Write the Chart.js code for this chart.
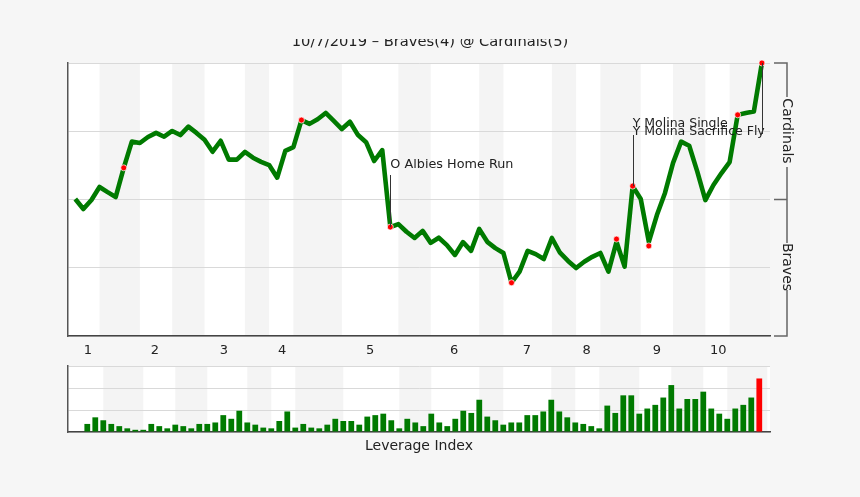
<!DOCTYPE html>
<html>
<head>
<meta charset="utf-8">
<title>Braves @ Cardinals</title>
<script src="https://cdn.jsdelivr.net/npm/chart.js@4"></script>
<style>
  html, body { margin: 0; padding: 0; background: #f6f6f6; overflow: hidden; }
  canvas { position: absolute; left: 0; }
  #wpChart { top: 0; }
  #liChart { top: 360px; }
</style>
</head>
<body>
<canvas id="wpChart" width="860" height="360"></canvas>
<canvas id="liChart" width="860" height="137"></canvas>
<script>
// win probability for the home side, one value per plate appearance
const winProb = [
  50.2, 46.5, 49.8, 54.6, 52.7, 50.9, 61.6, 71.2, 70.7, 72.9, 74.4, 73, 75.1, 73.6, 76.7, 74.4, 71.9,
  67.5, 71.5, 64.6, 64.6, 67.4, 65.3, 63.8, 62.6, 58, 67.8, 69.2, 79.1, 77.7, 79.4, 81.7, 78.8, 75.8,
  78.5, 73.6, 71, 64.1, 68.1, 39.9, 41, 38.2, 35.9, 38.5, 34.1, 36, 33.3, 29.7, 34.4, 31.2, 39.2, 34.5,
  32.2, 30.4, 19.5, 23.6, 31.2, 30, 28.2, 35.9, 30.5, 27.5, 24.9, 27.2, 29, 30.4, 23.6, 34.5, 25.4,
  54.9, 50.2, 34.5, 44.3, 52.4, 63.4, 71.2, 69.7, 60.2, 49.8, 55.3, 59.7, 63.7, 81, 81.7, 82.2, 100
];
// leverage index, one bar per plate appearance
const leverage = [
  1.1, 2, 1.6, 1.1, 0.8, 0.5, 0.3, 0.3, 1.1, 0.8, 0.5, 1, 0.8, 0.5, 1.1, 1.1, 1.3, 2.3, 1.8, 2.9, 1.3,
  1, 0.6, 0.5, 1.5, 2.8, 0.6, 1.1, 0.6, 0.5, 1, 1.8, 1.5, 1.5, 1, 2.1, 2.3, 2.5, 1.6, 0.5, 1.8, 1.3, 0.8,
  2.5, 1.3, 0.8, 1.8, 2.9, 2.6, 4.4, 2.1, 1.6, 1, 1.3, 1.3, 2.3, 2.3, 2.8, 4.4, 2.8, 2, 1.3, 1.1, 0.8,
  0.5, 3.6, 2.6, 5, 5, 2.5, 3.2, 3.7, 4.7, 6.4, 3.2, 4.5, 4.5, 5.5, 3.2, 2.5, 1.8, 3.2, 3.7, 4.7, 7.3
];
// big plays marked in red
const eventIndex = [6, 28, 39, 54, 67, 69, 71, 82, 85];
const eventValues = [61.6, 79.1, 39.9, 19.5, 35.5, 54.9, 33, 81, 100];
// shaded half innings, start and end plate appearance
const bandStarts = [3, 12, 21, 27, 40, 50, 59, 65, 74, 81];
const bandEnds = [8, 16, 24, 33, 44, 53, 62, 70, 78, 86];
const inningTicks = [1.57, 9.87, 18.4, 25.6, 36.5, 46.9, 55.9, 63.3, 72, 79.6];
const inningLabels = ['1', '2', '3', '4', '5', '6', '7', '8', '9', '10'];
const yTicksMain = [0, 25, 50, 75, 100];
const titleText = '10/7/2019 \u2013 Braves(4) @ Cardinals(5)';

const FONT = '"DejaVu Sans", sans-serif';
const GREEN = '#007a00';
const RED = '#ff0000';
const AXIS_DARK = '#555555';
const GRID = '#d9d9d9';

// white plot area with the grey innings behind the grid
function bandsPlugin(shift) {
  return {
    id: 'bands',
    beforeDraw(chart) {
      const { ctx, chartArea: a, scales: { x } } = chart;
      ctx.save();
      ctx.fillStyle = '#ffffff';
      ctx.fillRect(a.left, a.top, a.width, a.height);
      ctx.fillStyle = '#f4f4f4';
      bandStarts.forEach((s, i) => {
        const x0 = x.getPixelForValue(s - shift);
        const x1 = x.getPixelForValue(bandEnds[i] - shift);
        ctx.fillRect(x0, a.top, x1 - x0, a.height);
      });
      ctx.restore();
    }
  };
}

// title (cut off at the top in the original), play labels, team bracket
const decorPlugin = {
  id: 'decor',
  afterDraw(chart) {
    const { ctx, chartArea: a, scales: { x, y } } = chart;
    ctx.save();

    ctx.save();
    ctx.beginPath();
    ctx.rect(0, 39, 860, 20);
    ctx.clip();
    ctx.fillStyle = '#222222';
    ctx.font = '14.7px ' + FONT;
    ctx.textAlign = 'center';
    ctx.fillText(titleText, 430, 46);
    ctx.restore();

    ctx.fillStyle = '#222222';
    ctx.font = '12.8px ' + FONT;
    ctx.textAlign = 'left';
    ctx.fillText('O Albies Home Run', x.getPixelForValue(39), 168);
    ctx.font = '12.5px ' + FONT;
    ctx.fillText('Y Molina Single', x.getPixelForValue(69), 127);
    ctx.fillText('Y Molina Sacrifice Fly', x.getPixelForValue(69), 135);

    // leader lines
    ctx.strokeStyle = '#333333';
    ctx.lineWidth = 1;
    [[39, 175, 39.9], [69, 135, 54.9], [85, 134, 100]].forEach(([idx, topPx, val]) => {
      const px = Math.round(x.getPixelForValue(idx)) + 0.5;
      ctx.beginPath();
      ctx.moveTo(px, topPx);
      ctx.lineTo(px, y.getPixelForValue(val));
      ctx.stroke();
    });

    // bracket on the right
    const bx = a.right + 17;
    const yTop = y.getPixelForValue(100);
    const yMid = y.getPixelForValue(50);
    const yBot = y.getPixelForValue(0);
    ctx.strokeStyle = '#666666';
    ctx.lineWidth = 1.5;
    ctx.beginPath();
    ctx.moveTo(a.right + 4, yTop);
    ctx.lineTo(bx, yTop);
    ctx.lineTo(bx, 97);
    ctx.moveTo(bx, 167);
    ctx.lineTo(bx, 243);
    ctx.moveTo(bx, 290);
    ctx.lineTo(bx, yBot);
    ctx.lineTo(a.right + 4, yBot);
    ctx.moveTo(a.right + 4, yMid);
    ctx.lineTo(bx, yMid);
    ctx.stroke();

    ctx.fillStyle = '#222222';
    ctx.font = '14px ' + FONT;
    ctx.textAlign = 'center';
    ctx.textBaseline = 'middle';
    [['Cardinals', 131], ['Braves', 267]].forEach(([label, cy]) => {
      ctx.save();
      ctx.translate(bx, cy);
      ctx.rotate(Math.PI / 2);
      ctx.fillText(label, 0, 0);
      ctx.restore();
    });
    ctx.restore();
  }
};

// win probability chart
new Chart(document.getElementById('wpChart').getContext('2d'), {
  type: 'line',
  data: {
    datasets: [
      {
        data: eventIndex.map((idx, i) => ({ x: idx, y: eventValues[i] })),
        showLine: false,
        pointRadius: 3,
        pointBackgroundColor: RED,
        pointBorderColor: 'rgba(255,255,255,0.7)',
        pointBorderWidth: 1,
        clip: false,
        order: 0
      },
      {
        data: winProb.map((v, i) => ({ x: i, y: v })),
        borderColor: GREEN,
        borderWidth: 4.6,
        borderJoinStyle: 'round',
        pointRadius: 0,
        tension: 0,
        clip: false,
        order: 1
      }
    ]
  },
  options: {
    responsive: false,
    animation: false,
    layout: { padding: { left: 68, right: 90, top: 63, bottom: 0 } },
    plugins: { legend: { display: false }, tooltip: { enabled: false } },
    scales: {
      x: {
        type: 'linear',
        min: -0.9,
        max: 86,
        afterBuildTicks(axis) { axis.ticks = inningTicks.map(v => ({ value: v })); },
        afterFit(axis) { axis.height = 24; },
        ticks: {
          autoSkip: false,
          maxRotation: 0,
          padding: -1,
          color: '#222222',
          font: { family: FONT, size: 13 },
          callback: (val, i) => inningLabels[i]
        },
        grid: { display: false },
        border: { color: '#444444', width: 1.5 }
      },
      y: {
        min: 0,
        max: 100,
        afterBuildTicks(axis) { axis.ticks = yTicksMain.map(v => ({ value: v })); },
        ticks: { display: false },
        grid: { color: GRID, drawTicks: false },
        border: { color: AXIS_DARK, width: 1.5 }
      }
    }
  },
  plugins: [bandsPlugin(0), decorPlugin]
});

// leverage index chart
new Chart(document.getElementById('liChart').getContext('2d'), {
  type: 'bar',
  data: {
    datasets: [{
      data: leverage.map((v, i) => ({ x: i, y: v })),
      backgroundColor: leverage.map((v, i) => (i === leverage.length - 1 ? RED : GREEN)),
      barPercentage: 0.72,
      categoryPercentage: 1
    }]
  },
  options: {
    responsive: false,
    animation: false,
    layout: { padding: { left: 68, right: 90, top: 6, bottom: 35 } },
    plugins: { legend: { display: false }, tooltip: { enabled: false } },
    scales: {
      x: {
        type: 'linear',
        offset: false,
        min: -2.41,
        max: 85.34,
        afterFit(axis) { axis.height = 30; },
        ticks: { display: false },
        grid: { display: false },
        border: { color: '#444444', width: 1.5 },
        title: {
          display: true,
          text: 'Leverage Index',
          color: '#222222',
          font: { family: FONT, size: 14 },
          padding: { top: 0, bottom: 7 }
        }
      },
      y: {
        min: 0,
        max: 9,
        ticks: { display: false, stepSize: 3 },
        grid: { color: GRID, drawTicks: false },
        border: { color: AXIS_DARK, width: 1.5 }
      }
    }
  },
  plugins: [bandsPlugin(1)]
});
</script>
</body>
</html>
